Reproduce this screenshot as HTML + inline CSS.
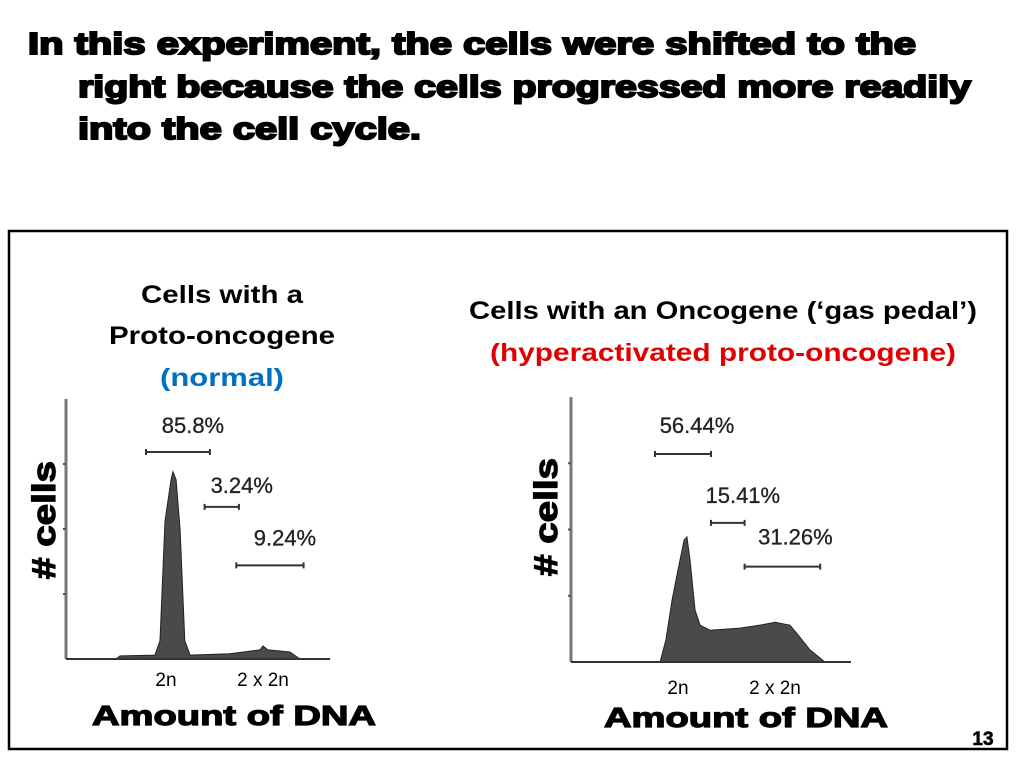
<!DOCTYPE html>
<html><head><meta charset="utf-8"><style>
body{margin:0;background:#fff;width:1024px;height:768px;overflow:hidden}
svg{display:block}
.t{font-family:"Liberation Sans",sans-serif;font-weight:bold}
</style></head><body>
<svg id="s" width="1024" height="768" viewBox="0 0 1024 768" xmlns="http://www.w3.org/2000/svg">
<g class="t" font-size="31" fill="#000" stroke="#000" stroke-width="2">
<text x="28" y="54" textLength="888" lengthAdjust="spacingAndGlyphs">In this experiment, the cells were shifted to the</text>
<text x="78" y="97" textLength="893" lengthAdjust="spacingAndGlyphs">right because the cells progressed more readily</text>
<text x="78" y="139" textLength="343" lengthAdjust="spacingAndGlyphs">into the cell cycle.</text>
</g>
<rect x="9" y="231" width="998" height="518" fill="none" stroke="#000" stroke-width="2.5"/>
<g class="t" font-size="25" text-anchor="middle">
<text x="222" y="303" fill="#000" textLength="162" lengthAdjust="spacingAndGlyphs">Cells with a</text>
<text x="222" y="344" fill="#000" textLength="226" lengthAdjust="spacingAndGlyphs">Proto-oncogene</text>
<text x="222" y="386" fill="#0070c0" textLength="124" lengthAdjust="spacingAndGlyphs">(normal)</text>
<text x="723" y="319" fill="#000" textLength="508" lengthAdjust="spacingAndGlyphs">Cells with an Oncogene (‘gas pedal’)</text>
<text x="723" y="361" fill="#e00000" textLength="466" lengthAdjust="spacingAndGlyphs">(hyperactivated proto-oncogene)</text>
</g>
<g id="left"></g>
<g id="right"></g>
<g class="t" font-size="32" stroke="#000" stroke-width="1.2">
<text transform="translate(55,520) rotate(-90)" text-anchor="middle" textLength="118" lengthAdjust="spacingAndGlyphs"># cells</text>
<text transform="translate(557,517) rotate(-90)" text-anchor="middle" textLength="118" lengthAdjust="spacingAndGlyphs"># cells</text>
<text x="234" y="725" font-size="28" text-anchor="middle" textLength="284" lengthAdjust="spacingAndGlyphs">Amount of DNA</text>
<text x="746" y="727" font-size="28" text-anchor="middle" textLength="284" lengthAdjust="spacingAndGlyphs">Amount of DNA</text>
<text x="983" y="745" font-size="19" text-anchor="middle" stroke-width="0.6">13</text>
</g>
<g font-family="'Liberation Sans',sans-serif" font-size="19" fill="#000" text-anchor="middle">
<text x="166" y="686">2n</text>
<text x="263" y="686">2 x 2n</text>
<text x="678" y="694">2n</text>
<text x="775" y="694">2 x 2n</text>
</g>
</svg>
<script>
const leftX=[18.9,20.5,33.7,35.6,37.5,39.8,40.5,41.7,43.2,45,47,62,73.5,74.6,76.5,84.8,88.6];
const leftY=[0,1.2,1.5,7,53,69,72,69,50,7,1.5,2,3.5,5,3.5,2.7,0];
const rightX=[31.8,33.9,36.1,38.2,40.4,41.4,42.5,44.3,46.1,49.6,60.4,67.5,72.9,78.2,81.1,85.4,90.7];
const rightY=[0,8.3,23.4,34.7,46,47.2,38.5,19.6,13.9,12,12.8,13.9,15,13.9,10.2,4.5,0];
const leftGates=[["85.8%",30.3,54.5,79.6],["3.24%",52.5,65.5,58.5],["9.24%",64.5,90,36]];
const rightGates=[["56.44%",30,50,78.5],["15.41%",50,62,52.5],["31.26%",62,89,36]];
const NS="http://www.w3.org/2000/svg";
function mk(g,tag,a){const e=document.createElementNS(NS,tag);for(const k in a)e.setAttribute(k,a[k]);g.appendChild(e);return e;}
function chart(id,x0,x1,y0,y1,xs,ys,gates,off,dys){
  const g=document.getElementById(id);
  const sx=v=>x0+(x1-x0)*v/100, sy=v=>y0-(y0-y1)*v/100;
  let d="M"+sx(xs[0])+","+sy(0);
  xs.forEach((x,i)=>{d+="L"+sx(x)+","+sy(ys[i]);});
  d+="L"+sx(xs[xs.length-1])+","+sy(0)+"Z";
  const p=mk(g,"path",{d:d,fill:"#4a4a4a",stroke:"#222","stroke-width":1});
  
  
  const ax=mk(g,"line",{x1:x0,y1:y1,x2:x0,y2:y0,stroke:"#777","stroke-width":3});
  
  
  const bx=mk(g,"line",{x1:x0,y1:y0,x2:x1,y2:y0,stroke:"#333","stroke-width":2});
  
  
  [25,50,75].forEach(t=>{const tk=mk(g,"line",{x1:x0-3,y1:sy(t),x2:x0,y2:sy(t),stroke:"#555","stroke-width":2});
    
    });
  gates.forEach((gt,i)=>{
    const yy=sy(gt[3]);
    const gl=mk(g,"path",{d:`M${sx(gt[1])},${yy}H${sx(gt[2])}M${sx(gt[1])},${yy-3}v6M${sx(gt[2])},${yy-3}v6`,stroke:"#333","stroke-width":2,fill:"none"});
    
    
    const tx=mk(g,"text",{x:(sx(gt[1])+sx(gt[2]))/2+off[i],y:yy-dys[i],"font-family":"'Liberation Sans',sans-serif","font-size":22,fill:"#222",stroke:"#222","stroke-width":0.3,"text-anchor":"middle"});
    tx.textContent=gt[0];
    
    
  });
}
chart("left",66,330,659,399,leftX,leftY,leftGates,[15,20,15],[19,14,20]);
chart("right",571,851,662,397,rightX,rightY,rightGates,[14,15,13],[21,20,22]);
</script>
</body></html>
